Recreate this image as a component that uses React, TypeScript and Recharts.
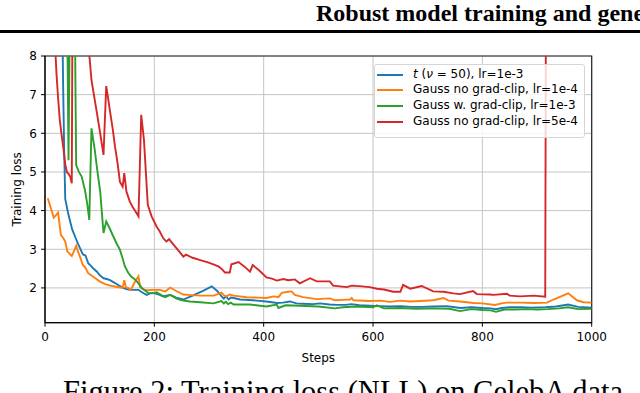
import React from 'react';
import { LineChart, Line, XAxis, YAxis, CartesianGrid, ReferenceArea } from 'recharts';

const xTicks = [0, 200, 400, 600, 800, 1000];
const yTicks = [2, 3, 4, 5, 6, 7, 8];

// t (nu=50), lr=1e-3
const tSteps = [30, 33, 35, 37, 42, 46, 50, 55, 60, 64, 68, 70, 74, 79, 84, 88, 95, 100, 107, 113, 119, 125, 131, 137, 143, 149, 155, 163, 171, 178, 186, 192, 198, 205, 210, 216, 222, 229, 240, 253, 270, 290, 305, 315, 323, 327, 331, 336, 340, 345, 357, 380, 405, 415, 424, 435, 448, 460, 472, 490, 503, 520, 534, 550, 561, 575, 594, 613, 630, 650, 670, 690, 710, 735, 750, 760, 780, 800, 815, 825, 835, 850, 870, 890, 915, 935, 957, 975, 1000];
const tLoss = [11, 7.4, 5.6, 4.3, 3.95, 3.72, 3.5, 3.33, 3.15, 3.03, 2.9, 2.86, 2.84, 2.64, 2.57, 2.51, 2.42, 2.33, 2.25, 2.23, 2.2, 2.15, 2.1, 2.05, 2.0, 1.97, 1.95, 1.95, 1.95, 1.88, 1.82, 1.86, 1.87, 1.84, 1.82, 1.78, 1.8, 1.82, 1.75, 1.7, 1.8, 1.93, 2.04, 1.92, 1.78, 1.72, 1.78, 1.7, 1.75, 1.74, 1.7, 1.68, 1.65, 1.63, 1.61, 1.62, 1.65, 1.6, 1.59, 1.58, 1.6, 1.57, 1.56, 1.56, 1.58, 1.55, 1.54, 1.53, 1.52, 1.53, 1.51, 1.51, 1.52, 1.53, 1.5, 1.48, 1.5, 1.48, 1.47, 1.45, 1.48, 1.5, 1.5, 1.49, 1.5, 1.52, 1.57, 1.51, 1.49];

// Gauss no grad-clip, lr=1e-4
const gaussLowSteps = [5, 10, 16, 20, 24, 29, 33, 37, 41, 45, 49, 53, 57, 60, 64, 69, 74, 79, 85, 92, 100, 110, 119, 130, 142, 145, 148, 152, 157, 165, 171, 174, 180, 186, 201, 210, 220, 229, 240, 253, 262, 284, 308, 320, 323, 328, 332, 338, 345, 369, 390, 405, 418, 427, 433, 445, 451, 457, 472, 497, 521, 530, 545, 558, 561, 564, 594, 613, 631, 650, 668, 686, 710, 729, 738, 759, 784, 800, 823, 835, 845, 869, 895, 918, 930, 957, 973, 985, 1000];
const gaussLowLoss = [4.32, 4.1, 3.82, 3.88, 3.95, 3.37, 3.3, 3.2, 2.94, 2.88, 2.83, 2.95, 3.09, 2.95, 2.81, 2.6, 2.52, 2.38, 2.32, 2.25, 2.17, 2.1, 2.06, 2.03, 2.0, 2.2, 2.02, 2.0, 1.95, 2.17, 2.3, 2.02, 1.96, 1.94, 1.95, 1.95, 1.91, 2.01, 1.92, 1.83, 1.82, 1.8, 1.8, 1.86, 1.88, 1.8, 1.78, 1.83, 1.8, 1.76, 1.75, 1.74, 1.78, 1.76, 1.87, 1.9, 1.91, 1.82, 1.76, 1.71, 1.73, 1.68, 1.69, 1.7, 1.74, 1.68, 1.66, 1.67, 1.64, 1.67, 1.65, 1.66, 1.68, 1.74, 1.67, 1.65, 1.61, 1.6, 1.56, 1.6, 1.62, 1.62, 1.61, 1.62, 1.7, 1.86, 1.68, 1.63, 1.62];

// Gauss w. grad-clip, lr=1e-3
const gaussClipSteps = [20, 40, 43, 46, 54, 57, 62, 67, 73, 77, 81, 85, 91, 96, 101, 107, 112, 118, 125, 131, 137, 142, 146, 152, 157, 163, 168, 173, 177, 183, 189, 197, 204, 212, 220, 229, 240, 250, 265, 284, 308, 323, 327, 331, 335, 340, 345, 375, 405, 424, 427, 440, 466, 500, 530, 545, 570, 600, 607, 620, 650, 680, 710, 740, 759, 780, 800, 815, 825, 840, 860, 880, 900, 920, 940, 957, 975, 1000];
const gaussClipLoss = [13, 10, 5.3, 10, 10, 5.18, 5.0, 4.88, 4.54, 4.2, 3.76, 6.13, 5.57, 5.0, 4.49, 3.42, 3.72, 3.55, 3.33, 3.15, 2.99, 2.76, 2.56, 2.4, 2.3, 2.24, 2.17, 2.08, 2.0, 1.93, 1.87, 1.86, 1.89, 1.82, 1.76, 1.82, 1.73, 1.68, 1.65, 1.63, 1.6, 1.66, 1.6, 1.64, 1.58, 1.62, 1.57, 1.57, 1.52, 1.57, 1.48, 1.55, 1.54, 1.52, 1.47, 1.5, 1.52, 1.5, 1.55, 1.47, 1.48, 1.46, 1.47, 1.46, 1.4, 1.45, 1.43, 1.42, 1.38, 1.44, 1.44, 1.45, 1.44, 1.45, 1.47, 1.5, 1.45, 1.46];

// Gauss no grad-clip, lr=5e-4
const gaussHighSteps = [15, 18, 21, 24, 27, 30, 34, 37, 40, 43, 46, 49, 51, 80, 85, 90, 95, 101, 107, 112, 116, 119, 124, 128, 133, 137, 142, 145, 149, 155, 160, 166, 171, 176, 181, 188, 195, 204, 210, 216, 222, 227, 235, 245, 253, 258, 270, 284, 298, 308, 318, 324, 329, 338, 341, 354, 365, 375, 380, 392, 405, 415, 424, 436, 445, 457, 466, 485, 497, 521, 527, 552, 561, 580, 594, 607, 620, 637, 650, 655, 668, 689, 710, 729, 747, 759, 783, 790, 814, 820, 845, 850, 869, 894, 915, 918];
const gaussHighLoss = [11, 8.4, 7.55, 6.9, 6.35, 6.0, 5.57, 5.2, 5.0, 4.95, 4.88, 4.71, 12, 8.2, 7.38, 6.95, 6.52, 6.0, 5.44, 7.22, 6.85, 6.56, 6.1, 5.66, 5.2, 4.75, 4.62, 4.97, 4.49, 4.24, 4.1, 3.97, 3.85, 6.48, 5.83, 4.15, 3.85, 3.59, 3.46, 3.29, 3.2, 3.26, 3.12, 2.95, 2.81, 2.86, 2.78, 2.72, 2.66, 2.61, 2.55, 2.48, 2.4, 2.4, 2.61, 2.67, 2.55, 2.42, 2.59, 2.45, 2.27, 2.24, 2.19, 2.23, 2.2, 2.22, 2.12, 2.25, 2.17, 2.17, 2.06, 2.02, 2.06, 2.04, 2.02, 1.98, 1.96, 1.9, 1.9, 2.08, 1.98, 2.05, 1.91, 1.9, 1.86, 1.84, 1.92, 1.84, 1.83, 1.82, 1.85, 1.8, 1.78, 1.8, 1.77, 20];

const toPoints = (steps: number[], loss: number[]) => steps.map((step, i) => ({ step, loss: loss[i] }));

const series = [
  { key: 't', color: '#1f77b4', data: toPoints(tSteps, tLoss) },
  { key: 'gaussLow', color: '#ff7f0e', data: toPoints(gaussLowSteps, gaussLowLoss) },
  { key: 'gaussClip', color: '#2ca02c', data: toPoints(gaussClipSteps, gaussClipLoss) },
  { key: 'gaussHigh', color: '#d62728', data: toPoints(gaussHighSteps, gaussHighLoss) },
];

const sans = '"DejaVu Sans", sans-serif';
const tickStyle = { fontSize: 12, fill: '#000', fontFamily: sans };

const legendRows = [
  { color: '#1f77b4', label: <span><i>t</i> (<i>ν</i> = 50), lr=1e-3</span> },
  { color: '#ff7f0e', label: <span>Gauss no grad-clip, lr=1e-4</span> },
  { color: '#2ca02c', label: <span>Gauss w. grad-clip, lr=1e-3</span> },
  { color: '#d62728', label: <span>Gauss no grad-clip, lr=5e-4</span> },
];

const App: React.FC = () => {
  return (
    <div style={{ position: 'absolute', left: 0, top: 0, width: 640, height: 393, overflow: 'hidden', background: '#fff' }}>
      <div style={{ position: 'absolute', left: 316, top: 1, fontFamily: '"Liberation Serif", serif', fontWeight: 'bold', fontSize: 24, lineHeight: '24px', whiteSpace: 'nowrap' }}>
        Robust model training and gene
      </div>
      <div style={{ position: 'absolute', left: 0, top: 30, width: 640, height: 2.5, background: '#000' }} />

      <LineChart width={640} height={393} margin={{ top: 56, right: 48.3, bottom: 28.3, left: 0 }} style={{ position: 'absolute', left: 0, top: 0 }}>
        <CartesianGrid stroke="#c4c4c4" strokeWidth={1} />
        <XAxis
          dataKey="step"
          type="number"
          domain={[0, 1000]}
          ticks={xTicks}
          allowDataOverflow
          height={42}
          tick={tickStyle}
          tickSize={4}
          tickMargin={6}
          stroke="#000"
          label={{ value: 'Steps', position: 'insideBottom', offset: 3, style: { fontSize: 12, fill: '#000', fontFamily: sans } }}
        />
        <YAxis
          type="number"
          domain={[1.1, 8]}
          ticks={yTicks}
          allowDataOverflow
          width={45}
          tick={tickStyle}
          tickSize={4}
          tickMargin={4}
          stroke="#000"
          label={{ value: 'Training loss', angle: -90, position: 'insideLeft', offset: 17, style: { fontSize: 12, fill: '#000', fontFamily: sans, textAnchor: 'middle' } }}
        />
        {series.map((s) => (
          <Line
            key={s.key}
            data={s.data}
            dataKey="loss"
            type="linear"
            stroke={s.color}
            strokeWidth={1.9}
            dot={false}
            isAnimationActive={false}
          />
        ))}
        <ReferenceArea x1={0} x2={1000} y1={1.1} y2={8} fill="none" stroke="#222" strokeWidth={1.2} />
      </LineChart>

      <div style={{ position: 'absolute', left: 374, top: 64, width: 211, height: 74, boxSizing: 'border-box', border: '1px solid #d6d6d6', borderRadius: 3, background: 'rgba(255,255,255,0.8)', paddingTop: 1.5, fontFamily: sans, fontSize: 12 }}>
        {legendRows.map((r, i) => (
          <div key={i} style={{ position: 'relative', height: 15.8, display: 'flex', alignItems: 'center' }}>
            <div style={{ position: 'absolute', left: 2, top: 7, width: 26, height: 2, background: r.color }} />
            <div style={{ position: 'absolute', left: 38, top: 0, lineHeight: '15.8px', whiteSpace: 'nowrap' }}>{r.label}</div>
          </div>
        ))}
      </div>

      <div style={{ position: 'absolute', left: 63, top: 377, fontFamily: '"Liberation Serif", serif', fontSize: 30.5, lineHeight: '30px', whiteSpace: 'nowrap' }}>
        Figure 2: Training loss (NLL) on CelebA data
      </div>
    </div>
  );
};

export default App;
